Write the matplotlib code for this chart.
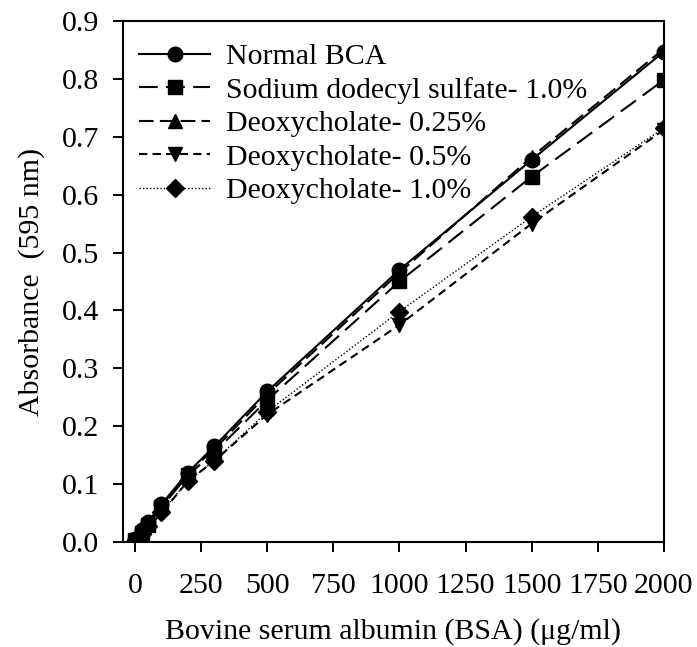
# BCA assay standard curves with detergents
import matplotlib.pyplot as plt

plt.rcParams['font.family'] = ['Liberation Serif', 'DejaVu Serif']

bsa = [0, 25, 50, 100, 200, 300, 500, 1000, 1500, 2000]

normal_bca = [0.005, 0.02, 0.035, 0.065, 0.12, 0.165, 0.26, 0.47, 0.66, 0.847]
sds_1 = [0.003, 0.015, 0.03, 0.06, 0.115, 0.155, 0.245, 0.45, 0.631, 0.798]
doc_025 = [0.004, 0.018, 0.032, 0.062, 0.12, 0.16, 0.255, 0.465, 0.665, 0.852]
doc_05 = [0.002, 0.012, 0.025, 0.05, 0.105, 0.14, 0.22, 0.375, 0.55, 0.712]
doc_1 = [0.002, 0.013, 0.027, 0.052, 0.105, 0.14, 0.225, 0.398, 0.562, 0.715]

labels = ['Normal BCA', 'Sodium dodecyl sulfate- 1.0%', 'Deoxycholate- 0.25%',
          'Deoxycholate- 0.5%', 'Deoxycholate- 1.0%']
xticks = [0, 250, 500, 750, 1000, 1250, 1500, 1750, 2000]

fig = plt.figure(figsize=(6.97, 6.47), dpi=100)
ax = fig.add_axes([0.1765, 0.1623, 0.776, 0.8053])

ax.plot(bsa, normal_bca, 'k-', marker='o', ms=10.5, lw=1.5, label=labels[0])
ax.plot(bsa, sds_1, 'k', ls=(0, (9, 4)), marker='s', ms=9.5, lw=1.5, label=labels[1])
ax.plot(bsa, doc_025, 'k', ls=(0, (7, 3)), marker='^', ms=10.5, lw=1.5, label=labels[2])
ax.plot(bsa, doc_05, 'k', ls=(0, (4, 2.5)), marker='v', ms=10.5, lw=1.5, label=labels[3])
ax.plot(bsa, doc_1, 'k', ls=(0, (1, 1.5)), marker='D', ms=9, lw=1.0, label=labels[4])

ax.set_xlim(-45, 2000)
ax.set_ylim(0, 0.9)
ax.set_xticks(xticks)
ax.set_yticks([i / 10 for i in range(10)])
ax.set_yticklabels(['%.1f' % (i / 10) for i in range(10)])
ax.tick_params(direction='out', length=7, width=1.4, labelsize=21.5, pad=10)
ax.tick_params(axis='x', pad=15)
for s in ax.spines.values():
    s.set_linewidth(1.5)

ax.set_xlabel('Bovine serum albumin (BSA) (\u03bcg/ml)', fontsize=21.5, labelpad=14)
ax.set_ylabel('Absorbance  (595 nm)', fontsize=21.5, labelpad=12)

ax.legend(loc='upper left', bbox_to_anchor=(-0.011, 1.0), frameon=False,
          fontsize=21.5, handlelength=2.35, labelspacing=0.22,
          borderaxespad=0.45, borderpad=0.3, handletextpad=0.55)

fig.savefig('out.png', dpi=100)
